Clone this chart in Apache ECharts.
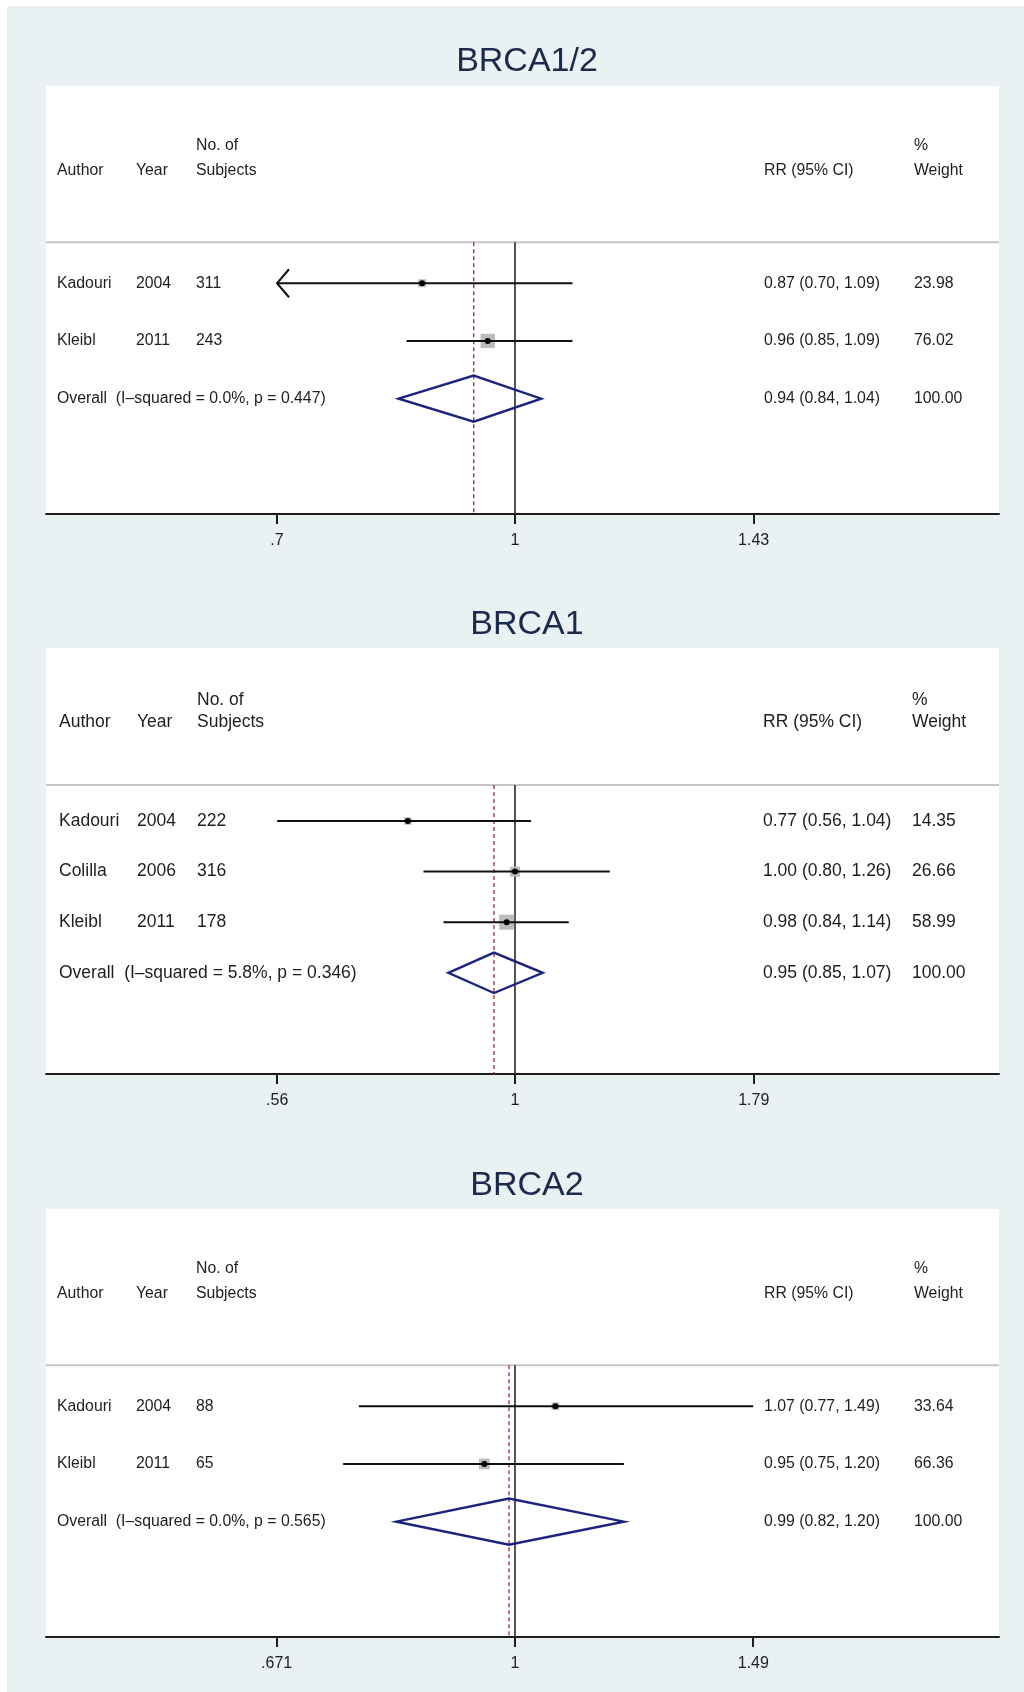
<!DOCTYPE html>
<html>
<head>
<meta charset="utf-8">
<title>BRCA forest plots</title>
<script src="https://cdn.jsdelivr.net/npm/echarts@6/dist/echarts.min.js"></script>
<style>
  html, body { margin: 0; padding: 0; background: #ffffff; }
  #wrap { position: relative; width: 1024px; height: 1692px; }
  #bg { position: absolute; left: 7px; top: 6px; width: 1017px; height: 1686px; background: #e9f1f3; }
  #chart-container { position: absolute; left: 0; top: 0; width: 1024px; height: 1692px; }
</style>
</head>
<body>
<div id="wrap"><div id="bg"></div><div id="chart-container"></div></div>
<script>
// ---- BRCA1/2 ----
var authors1 = ["Kadouri", "Kleibl"];
var years1 = [2004, 2011];
var subjects1 = [311, 243];
var rr1 = [0.87, 0.96];
var lower1 = [0.70, 0.85];
var upper1 = [1.09, 1.09];
var weight1 = [23.98, 76.02];
var arrowLeft1 = [true, false]; // CI runs off the left of the scale
var pooled1 = [0.94, 0.84, 1.04]; // RR, lower, upper
var het1 = "I\u2013squared = 0.0%, p = 0.447";
var ticks1 = [0.7, 1, 1.43];
var tickLabels1 = [".7", "1", "1.43"];

// ---- BRCA1 ----
var authors2 = ["Kadouri", "Colilla", "Kleibl"];
var years2 = [2004, 2006, 2011];
var subjects2 = [222, 316, 178];
var rr2 = [0.77, 1.00, 0.98];
var lower2 = [0.56, 0.80, 0.84];
var upper2 = [1.04, 1.26, 1.14];
var weight2 = [14.35, 26.66, 58.99];
var arrowLeft2 = [false, false, false];
var pooled2 = [0.95, 0.85, 1.07];
var het2 = "I\u2013squared = 5.8%, p = 0.346";
var ticks2 = [0.56, 1, 1.79];
var tickLabels2 = [".56", "1", "1.79"];

// ---- BRCA2 ----
var authors3 = ["Kadouri", "Kleibl"];
var years3 = [2004, 2011];
var subjects3 = [88, 65];
var rr3 = [1.07, 0.95];
var lower3 = [0.77, 0.75];
var upper3 = [1.49, 1.20];
var weight3 = [33.64, 66.36];
var arrowLeft3 = [false, false];
var pooled3 = [0.99, 0.82, 1.20];
var het3 = "I\u2013squared = 0.0%, p = 0.565";
var ticks3 = [0.671, 1, 1.49];
var tickLabels3 = [".671", "1", "1.49"];

var dom = document.getElementById("chart-container");
var myChart = echarts.init(dom, null, { renderer: "canvas" });

var FONT = "'Liberation Sans', Arial, Helvetica, sans-serif";
var INK = "#1e1e1e";
var SEP = -0.71;    // header rule, in row units
var TOPROW = -3.42; // top of plot region, in row units

var panels = [
  { title: "BRCA1/2", authors: authors1, years: years1, subjects: subjects1, rr: rr1, lower: lower1, upper: upper1,
    weight: weight1, arrows: arrowLeft1, pooled: pooled1, het: het1, ticks: ticks1, tickLabels: tickLabels1,
    top: 86, height: 428, titleTop: 40, fs: 15.8, box: 1.64, cols: [57, 136, 196, 764, 914] },
  { title: "BRCA1", authors: authors2, years: years2, subjects: subjects2, rr: rr2, lower: lower2, upper: upper2,
    weight: weight2, arrows: arrowLeft2, pooled: pooled2, het: het2, ticks: ticks2, tickLabels: tickLabels2,
    top: 648, height: 426, titleTop: 603, fs: 17.5, box: 1.95, cols: [59, 137, 197, 763, 912] },
  { title: "BRCA2", authors: authors3, years: years3, subjects: subjects3, rr: rr3, lower: lower3, upper: upper3,
    weight: weight3, arrows: arrowLeft3, pooled: pooled3, het: het3, ticks: ticks3, tickLabels: tickLabels3,
    top: 1209, height: 428, titleTop: 1164, fs: 15.8, box: 1.31, cols: [57, 136, 196, 764, 914] }
];

function txt(x, y, s, fs) {
  return {
    type: "text", x: x, y: y,
    style: { text: s, fill: INK, font: fs + "px " + FONT, align: "left", verticalAlign: "middle",
             textAlign: "left", textVerticalAlign: "middle" }
  };
}
function ciText(r, l, u) {
  return r.toFixed(2) + " (" + l.toFixed(2) + ", " + u.toFixed(2) + ")";
}

var titles = [], grids = [], xAxes = [], yAxes = [], series = [];

panels.forEach(function (P, k) {
  var n = P.authors.length;   // study rows 0..n-1, overall row n
  var bottom = n + 2;         // axis sits one row below the overall row
  var tickVals = P.ticks.map(function (t) { return Math.log(t); });
  var L = (tickVals[2] - tickVals[0]) / 2;

  titles.push({
    text: P.title, left: 522, top: P.titleTop, textAlign: "center",
    textStyle: { fontSize: 34, fontWeight: "normal", color: "#1c2a4f", fontFamily: FONT }
  });
  grids.push({ left: 46, right: 25, top: P.top, height: P.height, show: true, backgroundColor: "#ffffff", borderWidth: 0 });
  xAxes.push({
    gridIndex: k, type: "value", min: -1.968 * L, max: 2.031 * L,
    axisLine: { onZero: false, lineStyle: { color: INK, width: 2 } },
    axisTick: { show: true, length: 10, customValues: tickVals, lineStyle: { color: INK, width: 2 } },
    axisLabel: {
      customValues: tickVals, fontSize: 16, color: INK, margin: 19, fontFamily: FONT,
      formatter: function (v) {
        var best = 0;
        tickVals.forEach(function (t, j) { if (Math.abs(t - v) < Math.abs(tickVals[best] - v)) best = j; });
        return P.tickLabels[best];
      }
    },
    splitLine: { show: false }
  });
  yAxes.push({ gridIndex: k, type: "value", inverse: true, min: TOPROW, max: bottom, show: false });

  // header, rules, reference lines
  series.push({
    type: "custom", xAxisIndex: k, yAxisIndex: k, z: 1, silent: true,
    data: [[0, n]],
    renderItem: function (params, api) {
      var cs = params.coordSys;
      var sepY = api.coord([0, SEP])[1];
      var top1 = api.coord([0, -2.39])[1];
      var top2 = api.coord([0, -1.95])[1];
      var nullTop = api.coord([0, SEP]);
      var nullBot = api.coord([0, bottom]);
      var pTop = api.coord([Math.log(P.pooled[0]), SEP]);
      var pBot = api.coord([Math.log(P.pooled[0]), bottom]);
      var c = P.cols;
      return {
        type: "group",
        children: [
          { type: "line", shape: { x1: cs.x, y1: sepY, x2: cs.x + cs.width, y2: sepY },
            style: { stroke: "#c6c6c6", lineWidth: 2 } },
          { type: "line", shape: { x1: nullTop[0], y1: nullTop[1], x2: nullBot[0], y2: nullBot[1] },
            style: { stroke: "#2a2a2a", lineWidth: 1.6 } },
          { type: "line", shape: { x1: pTop[0], y1: pTop[1], x2: pBot[0], y2: pBot[1] },
            style: { stroke: "#a8283c", lineWidth: 1.3, lineDash: [4, 3] } },
          txt(c[2], top1, "No. of", P.fs),
          txt(c[4], top1, "%", P.fs),
          txt(c[0], top2, "Author", P.fs),
          txt(c[1], top2, "Year", P.fs),
          txt(c[2], top2, "Subjects", P.fs),
          txt(c[3], top2, "RR (95% CI)", P.fs),
          txt(c[4], top2, "Weight", P.fs)
        ]
      };
    }
  });

  // study rows
  series.push({
    type: "custom", xAxisIndex: k, yAxisIndex: k, z: 3, silent: true,
    data: P.rr.map(function (v, i) { return [Math.log(v), i]; }),
    renderItem: function (params, api) {
      var i = api.value(1);
      var c = api.coord([Math.log(P.rr[i]), i]);
      var lo = api.coord([Math.log(P.lower[i]), i]);
      var hi = api.coord([Math.log(P.upper[i]), i]);
      var side = P.box * Math.sqrt(P.weight[i]);
      var kids = [
        { type: "rect", shape: { x: c[0] - side / 2, y: c[1] - side / 2, width: side, height: side },
          style: { fill: "#bcbcbc" } },
        { type: "line", shape: { x1: lo[0], y1: lo[1], x2: hi[0], y2: hi[1] },
          style: { stroke: "#111111", lineWidth: 2 } },
        { type: "circle", shape: { cx: c[0], cy: c[1], r: 3 }, style: { fill: "#000000" } },
        txt(P.cols[0], c[1], P.authors[i], P.fs),
        txt(P.cols[1], c[1], String(P.years[i]), P.fs),
        txt(P.cols[2], c[1], String(P.subjects[i]), P.fs),
        txt(P.cols[3], c[1], ciText(P.rr[i], P.lower[i], P.upper[i]), P.fs),
        txt(P.cols[4], c[1], P.weight[i].toFixed(2), P.fs)
      ];
      if (P.arrows[i]) {
        kids.push({ type: "polyline",
          shape: { points: [[lo[0] + 12, lo[1] - 14], [lo[0], lo[1]], [lo[0] + 12, lo[1] + 14]] },
          style: { stroke: "#111111", lineWidth: 2, fill: null } });
      }
      return { type: "group", children: kids };
    }
  });

  // pooled estimate
  series.push({
    type: "custom", xAxisIndex: k, yAxisIndex: k, z: 2, silent: true,
    data: [[Math.log(P.pooled[0]), n]],
    renderItem: function (params, api) {
      var r = api.value(1);
      var m = Math.log(P.pooled[0]);
      var a = api.coord([Math.log(P.pooled[1]), r]);
      var b = api.coord([m, r - 0.4]);
      var d = api.coord([Math.log(P.pooled[2]), r]);
      var e = api.coord([m, r + 0.4]);
      return {
        type: "group",
        children: [
          { type: "polygon", shape: { points: [a, b, d, e] },
            style: { fill: null, stroke: "#1b2380", lineWidth: 2.4 } },
          txt(P.cols[0], a[1], "Overall  (" + P.het + ")", P.fs),
          txt(P.cols[3], a[1], ciText(P.pooled[0], P.pooled[1], P.pooled[2]), P.fs),
          txt(P.cols[4], a[1], "100.00", P.fs)
        ]
      };
    }
  });
});

var option = {
  animation: false,
  title: titles,
  grid: grids,
  xAxis: xAxes,
  yAxis: yAxes,
  series: series
};

myChart.setOption(option);
window.addEventListener("resize", myChart.resize);
</script>
</body>
</html>
